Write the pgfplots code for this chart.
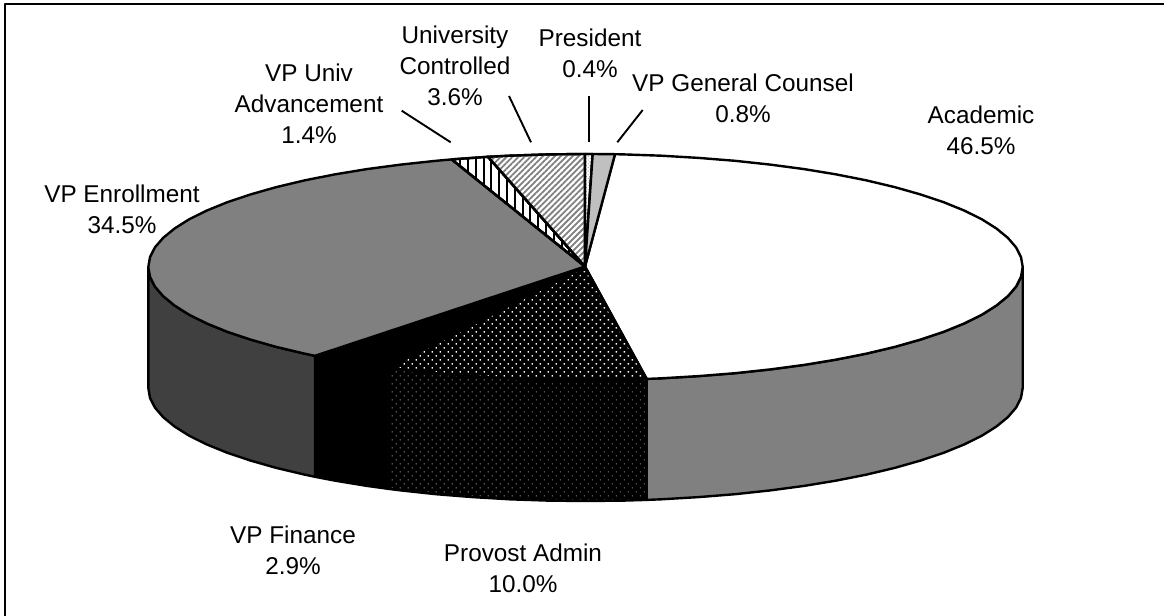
\documentclass[border=0pt]{standalone}
\usepackage{fontspec}
\setmainfont{Liberation Sans}
\usepackage{pgfplots}
\pgfplotsset{compat=1.18}
\usetikzlibrary{patterns.meta}
\definecolor{midgray}{HTML}{808080}
\definecolor{darkgray}{HTML}{404040}
\definecolor{lightgray}{HTML}{C0C0C0}
\tikzset{lbl/.style={align=center, font=\fontsize{12.15}{15.5}\selectfont, text=black, inner sep=0pt}}
\begin{document}
\begin{tikzpicture}
\path[use as bounding box] (0,0) rectangle (582pt,308pt);
\begin{axis}[
  at={(0,0)}, anchor=south west,
  scale only axis, width=582pt, height=308pt,
  xmin=0, xmax=1164, ymin=0, ymax=616, y dir=reverse,
  hide axis,
  every axis plot/.append style={line width=1.2pt, line join=round, no marks},
]
% --- frame (left and top only)
\addplot[black, line width=1pt] coordinates {(5,616) (5,4) (1164,4)};

% --- SIDE WALLS
% Academic side
\addplot[draw=black, fill=midgray] coordinates {
(1022.7,267)(1021.0,276.9)(1016.1,286.6)(1007.8,296.2)(996.3,305.6)(981.7,314.8)(964.1,323.5)(943.7,331.8)(920.4,339.6)(894.7,346.9)(866.5,353.6)(836.3,359.6)(804.1,364.9)(770.3,369.4)(735.0,373.2)(698.6,376.1)(661.4,378.3)(646.7,378.9)
(646.7,499.9)(661.4,499.3)(698.6,497.1)(735.0,494.2)(770.3,490.4)(804.1,485.9)(836.3,480.6)(866.5,474.6)(894.7,467.9)(920.4,460.6)(943.7,452.8)(964.1,444.5)(981.7,435.8)(996.3,426.6)(1007.8,417.2)(1016.1,407.6)(1021.0,397.9)(1022.7,388)
} -- cycle;
% Provost Admin side
\addplot[draw=none, fill=black] coordinates {
(646.7,378.9)(623.6,379.6)(585.5,380)(547.4,379.6)(509.6,378.3)(472.4,376.1)(436.0,373.2)(400.7,369.4)(388,367.8)
(388,488.8)(400.7,490.4)(436.0,494.2)(472.4,497.1)(509.6,499.3)(547.4,500.6)(585.5,501)(623.6,500.6)(646.7,499.9)
} -- cycle;
\addplot[draw=black, pattern={Dots[distance=2.83pt, radius=0.38pt, angle=45]}, pattern color=gray] coordinates {
(646.7,378.9)(623.6,379.6)(585.5,380)(547.4,379.6)(509.6,378.3)(472.4,376.1)(436.0,373.2)(400.7,369.4)(388,367.8)
(388,488.8)(400.7,490.4)(436.0,494.2)(472.4,497.1)(509.6,499.3)(547.4,500.6)(585.5,501)(623.6,500.6)(646.7,499.9)
} -- cycle;
% VP Finance side
\addplot[draw=black, fill=black] coordinates {
(388,367.8)(366.9,364.9)(334.7,359.6)(315,355.8)
(315,476.8)(334.7,480.6)(366.9,485.9)(388,488.8)
} -- cycle;
% VP Enrollment side
\addplot[draw=black, fill=darkgray] coordinates {
(315,355.8)(304.5,353.6)(276.3,346.9)(250.6,339.6)(227.3,331.8)(206.9,323.5)(189.3,314.8)(174.7,305.6)(163.2,296.2)(154.9,286.6)(150.0,276.9)(148.3,267)
(148.3,388)(150.0,397.9)(154.9,407.6)(163.2,417.2)(174.7,426.6)(189.3,435.8)(206.9,444.5)(227.3,452.8)(250.6,460.6)(276.3,467.9)(304.5,474.6)(315,476.8)
} -- cycle;

% --- TOP SLICES
% Academic
\addplot[draw=black, fill=white] coordinates {
(585,266.5)(615,154.2)(623.6,154.4)(661.4,155.7)(698.6,157.9)(735.0,160.8)(770.3,164.6)(804.1,169.1)(836.3,174.4)(866.5,180.4)(894.7,187.1)(920.4,194.4)(943.7,202.2)(964.1,210.5)(981.7,219.2)(996.3,228.4)(1007.8,237.8)(1016.1,247.4)(1021.0,257.1)(1022.7,267)
(1021.0,276.9)(1016.1,286.6)(1007.8,296.2)(996.3,305.6)(981.7,314.8)(964.1,323.5)(943.7,331.8)(920.4,339.6)(894.7,346.9)(866.5,353.6)(836.3,359.6)(804.1,364.9)(770.3,369.4)(735.0,373.2)(698.6,376.1)(661.4,378.3)(646.7,378.9)
} -- cycle;
% Provost Admin
\addplot[draw=none, fill=black] coordinates {
(585,266.5)(646.7,378.9)(623.6,379.6)(585.5,380)(547.4,379.6)(509.6,378.3)(472.4,376.1)(436.0,373.2)(400.7,369.4)(388,367.8)
} -- cycle;
\addplot[draw=black, pattern={Dots[distance=2.83pt, radius=0.48pt, angle=45]}, pattern color=white] coordinates {
(585,266.5)(646.7,378.9)(623.6,379.6)(585.5,380)(547.4,379.6)(509.6,378.3)(472.4,376.1)(436.0,373.2)(400.7,369.4)(388,367.8)
} -- cycle;
% VP Finance
\addplot[draw=black, fill=black] coordinates {
(585,266.5)(388,367.8)(366.9,364.9)(334.7,359.6)(315,355.8)
} -- cycle;
% VP Enrollment
\addplot[draw=black, fill=midgray] coordinates {
(585,266.5)(315,355.8)(304.5,353.6)(276.3,346.9)(250.6,339.6)(227.3,331.8)(206.9,323.5)(189.3,314.8)(174.7,305.6)(163.2,296.2)(154.9,286.6)(150.0,276.9)(148.3,267)(150.0,257.1)(154.9,247.4)(163.2,237.8)(174.7,228.4)(189.3,219.2)(206.9,210.5)(227.3,202.2)(250.6,194.4)(276.3,187.1)(304.5,180.4)(334.7,174.4)(366.9,169.1)(400.7,164.6)(436.0,160.8)(451.7,159.4)
} -- cycle;
% VP Univ Advancement
\addplot[draw=black, fill=white] coordinates {
(585,266.5)(451.7,159.4)(472.4,157.9)(488,156.8)
} -- cycle;
\addplot[draw=black, pattern={Lines[angle=90, distance=3.9pt, line width=1pt]}, pattern color=black] coordinates {
(585,266.5)(451.7,159.4)(472.4,157.9)(488,156.8)
} -- cycle;
% University Controlled
\addplot[draw=black, fill=white] coordinates {
(585,266.5)(488,156.8)(509.6,155.7)(547.4,154.4)(585,154)
} -- cycle;
\addplot[draw=black, pattern={Lines[angle=45, distance=2.1pt, line width=0.9pt]}, pattern color=gray] coordinates {
(585,266.5)(488,156.8)(509.6,155.7)(547.4,154.4)(585,154)
} -- cycle;
% President
\addplot[draw=black, fill=white] coordinates {
(585,266.5)(585,154)(592.7,154)
} -- cycle;
\addplot[draw=black, pattern={Dots[distance=1.3pt, radius=0.3pt, angle=45]}, pattern color=gray] coordinates {
(585,266.5)(585,154)(592.7,154)
} -- cycle;
% VP General Counsel
\addplot[draw=black, fill=lightgray] coordinates {
(585,266.5)(592.7,154)(615,154.2)
} -- cycle;

% --- LEADER LINES
\addplot[black, line width=0.95pt] coordinates {(401.7,110.7)(450.7,142.3)};
\addplot[black, line width=0.95pt] coordinates {(509,96)(531,142.3)};
\addplot[black, line width=0.95pt] coordinates {(589.3,96)(589.3,142.3)};
\addplot[black, line width=0.95pt] coordinates {(642.7,110)(617.3,142.3)};

% --- LABELS
\node[lbl] at (axis cs:309,104) {VP Univ\\Advancement\\1.4\%};
\node[lbl] at (axis cs:455,66) {University\\Controlled\\3.6\%};
\node[lbl] at (axis cs:590,53) {President\\0.4\%};
\node[lbl] at (axis cs:743,98) {VP General Counsel\\0.8\%};
\node[lbl] at (axis cs:981,130) {Academic\\46.5\%};
\node[lbl] at (axis cs:122,209) {VP Enrollment\\34.5\%};
\node[lbl] at (axis cs:293,550) {VP Finance\\2.9\%};
\node[lbl] at (axis cs:523,568) {Provost Admin\\10.0\%};
\end{axis}
\end{tikzpicture}
\end{document}
